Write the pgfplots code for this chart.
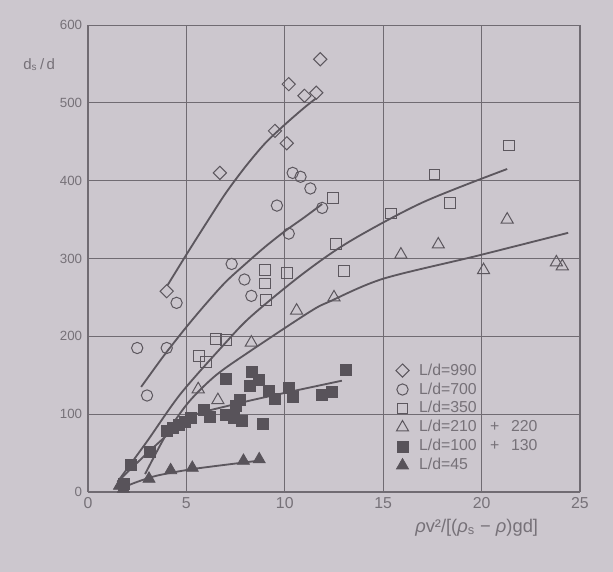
\documentclass[border=0pt]{standalone}
\usepackage{fontspec}
\setmainfont{Liberation Sans}
\usepackage{pgfplots}
\pgfplotsset{compat=1.18}
\definecolor{paper}{RGB}{204,199,206}
\definecolor{ink}{RGB}{118,113,120}
\definecolor{gridc}{RGB}{112,107,114}
\definecolor{linec}{RGB}{92,87,94}
\definecolor{fillc}{RGB}{88,83,90}
\begin{document}
\begin{tikzpicture}
\fill[paper] (0,0) rectangle (367.8pt,343.2pt);
\useasboundingbox (0,0) rectangle (367.8pt,343.2pt);
\begin{axis}[
 at={(52.8pt,48pt)}, anchor=south west,
 scale only axis, width=295.2pt, height=280.2pt,
 xmin=0, xmax=25, ymin=0, ymax=600,
 xtick={0,5,...,25}, ytick={0,100,...,600},
 grid=major, major grid style={gridc, line width=0.5pt},
 axis line style={gridc, line width=0.6pt},
 tick style={draw=none},
 /pgf/number format/assume math mode=true,
 ticklabel style={text=ink},
 xticklabel style={font=\fontsize{9.5}{10}\selectfont},
 yticklabel style={font=\fontsize{8}{9}\selectfont},
 xlabel={\textit{ρ}v²/[(\textit{ρ}\textsubscript{s} − \textit{ρ})gd]},
 xlabel style={at={(axis description cs:0.79,-0.045)}, anchor=north, font=\fontsize{11}{13}\selectfont, text=ink},
 ylabel={d\textsubscript{s}\,/\,d},
 ylabel style={rotate=-90, at={(axis description cs:-0.055,0.915)}, anchor=east, font=\fontsize{9}{10}\selectfont, text=ink},
 legend style={at={(axis description cs:0.615,0.29)}, anchor=north west, draw=none, fill=none,
   font=\fontsize{9.5}{11}\selectfont, text=ink, row sep=-1pt, column sep=4pt},
 legend cell align=left,
]
% fitted curves
\addplot[linec, line width=1.1pt, smooth, tension=0.5, forget plot] coordinates {(4.05,266) (5,305) (6,345) (7,384) (8,418) (9,448) (10,472) (11,494) (11.6,506)};
\addplot[linec, line width=1.1pt, smooth, tension=0.5, forget plot] coordinates {(2.7,135) (3.5,163) (4,180) (5,212) (6,242) (7,270) (8,293) (9,315) (10,335) (11,353) (11.9,370)};
\addplot[linec, line width=1.1pt, smooth, tension=0.5, forget plot] coordinates {(1.5,13) (3,65) (4.7,126) (7,192) (8.3,226) (10.9,280) (13.3,322) (17,372) (21.3,415)};
\addplot[linec, line width=1.1pt, smooth, tension=0.5, forget plot] coordinates {(2.9,23) (4,75) (5.1,115) (6.5,150) (8.3,182) (11.3,232) (12.3,245) (15,274) (19.7,303) (24.4,333)};
\addplot[linec, line width=1.1pt, smooth, tension=0.5, forget plot] coordinates {(1.5,13) (3.1,52) (4.7,88) (5.5,100) (7,110) (8.5,119) (10.3,129) (12.9,143)};
\addplot[linec, line width=1.1pt, smooth, tension=0.5, forget plot] coordinates {(1.6,4) (2.5,13) (3.5,21) (5.2,29) (7,35) (8.6,40)};
% data
\addplot[only marks, mark=square, mark size=2.8pt, mark options={rotate=45, draw=linec, line width=0.6pt, fill=none}] coordinates {
(4.0,258) (6.7,410) (9.5,464) (10.1,448) (10.2,524) (11.0,509) (11.6,513) (11.8,556)};
\addlegendentry{L/d=990}
\addplot[only marks, mark=o, mark size=3.4pt, mark options={draw=linec, line width=0.6pt}] coordinates {
(2.5,185) (3.0,124) (4.0,185) (4.5,243) (7.3,293) (7.95,273) (8.3,252) (9.6,368) (10.2,332) (10.4,410) (10.8,405) (11.3,390) (11.9,365)};
\addlegendentry{L/d=700}
\addplot[only marks, mark=square, mark size=3.2pt, mark options={draw=linec, line width=0.6pt}] coordinates {
(5.65,175) (6.0,167) (6.5,197) (7.0,195) (9.0,285) (9.0,268) (9.05,247) (10.1,281) (12.45,378) (12.6,319) (13.0,284) (15.4,358) (17.6,408) (18.4,371) (21.4,445)};
\addlegendentry{L/d=350}
\addplot[only marks, mark=triangle, mark size=4.2pt, mark options={draw=linec, line width=0.6pt}] coordinates {
(5.6,132) (6.6,118) (8.3,192) (10.6,233) (12.5,250) (15.9,305) (17.8,318) (20.1,285) (21.3,350) (23.8,295) (24.1,290)};
\addlegendentry{L/d=210\hspace{8pt}+\hspace{7pt}220}
\addplot[only marks, mark=square*, mark size=3.3pt, mark options={draw=fillc, fill=fillc}] coordinates {
(1.8,10) (2.2,35) (3.15,51) (4.0,78) (4.3,82) (4.6,86) (4.9,90) (5.2,95) (5.9,105) (6.2,96) (7.0,146) (7.0,99) (7.4,95) (7.5,111) (7.7,118) (7.8,92) (8.2,136) (8.3,154) (8.7,144) (8.9,88) (9.2,130) (9.5,120) (10.2,134) (10.4,122) (11.9,125) (12.4,129) (13.1,157)};
\addlegendentry{L/d=100\hspace{8pt}+\hspace{7pt}130}
\addplot[only marks, mark=triangle*, mark size=4.2pt, mark options={draw=fillc, fill=fillc}] coordinates {
(1.6,8) (1.8,4) (3.1,17) (4.2,28) (5.3,31) (7.9,40) (8.7,42)};
\addlegendentry{L/d=45}
\end{axis}
\end{tikzpicture}
\end{document}
